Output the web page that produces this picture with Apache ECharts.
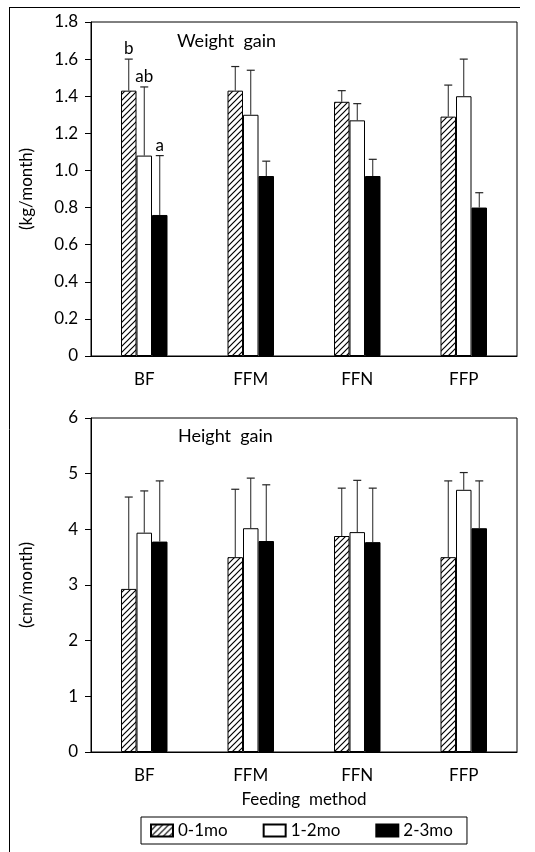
<!DOCTYPE html>
<html>
<head>
<meta charset="utf-8">
<script src="https://cdn.jsdelivr.net/npm/echarts@6/dist/echarts.min.js"></script>
<style>
  html, body { margin: 0; padding: 0; background: #fff; }
  #chart { width: 535px; height: 852px; }
</style>
</head>
<body>
<div id="chart"></div>
<script>
// feeding methods
var methods = ['BF', 'FFM', 'FFN', 'FFP'];
var periods = ['0-1mo', '1-2mo', '2-3mo'];

// weight gain (kg/month): mean and SD
var weight01 = [1.43, 1.43, 1.37, 1.29];
var weight12 = [1.08, 1.30, 1.27, 1.40];
var weight23 = [0.76, 0.97, 0.97, 0.80];
var weightSd01 = [0.17, 0.13, 0.06, 0.17];
var weightSd12 = [0.37, 0.24, 0.09, 0.20];
var weightSd23 = [0.32, 0.08, 0.09, 0.08];
var weightLetters = ['b', 'ab', 'a']; // BF group only

// height gain (cm/month): mean and SD
var height01 = [2.93, 3.50, 3.88, 3.50];
var height12 = [3.94, 4.02, 3.95, 4.71];
var height23 = [3.78, 3.79, 3.77, 4.02];
var heightSd01 = [1.65, 1.22, 0.86, 1.37];
var heightSd12 = [0.75, 0.90, 0.93, 0.31];
var heightSd23 = [1.09, 1.01, 0.97, 0.85];

var BAR_W = 15.5;
var FONT = 'Lato';
var FS = 17;

// hatch pattern ////
function makeHatch() {
	var c = document.createElement('canvas');
	c.width = 6; c.height = 6;
	var ctx = c.getContext('2d');
	ctx.fillStyle = '#fff';
	ctx.fillRect(0, 0, 6, 6);
	ctx.strokeStyle = '#000';
	ctx.lineWidth = 1.2;
	ctx.beginPath();
	ctx.moveTo(0, 6); ctx.lineTo(6, 0);
	ctx.moveTo(-1, 1); ctx.lineTo(1, -1);
	ctx.moveTo(5, 7); ctx.lineTo(7, 5);
	ctx.stroke();
	return c;
}
var hatch = { image: makeHatch(), repeat: 'repeat' };
var fills = [hatch, '#fff', '#000'];

function errData(sds, means) {
	var out = [];
	for (var k = 0; k < 3; k++) {
		for (var i = 0; i < methods.length; i++) {
			out.push([i, means[k][i], sds[k][i], k]);
		}
	}
	return out;
}

function errRender(letters) {
	return function(params, api) {
		var cat = api.value(0), mean = api.value(1), sd = api.value(2), k = api.value(3);
		var base = api.coord([cat, mean]);
		var top = api.coord([cat, mean + sd]);
		var x = base[0] + (k - 1) * BAR_W;
		var kids = [
			{ type: 'line', shape: { x1: x, y1: base[1], x2: x, y2: top[1] }, style: { stroke: '#222', lineWidth: 1 } },
			{ type: 'line', shape: { x1: x - 4, y1: top[1], x2: x + 4, y2: top[1] }, style: { stroke: '#222', lineWidth: 1.2 } }
		];
		if (letters && cat === 0) {
			kids.push({
				type: 'text',
				style: { text: letters[k], x: x, y: top[1] - 2, align: 'center', verticalAlign: 'bottom', fontFamily: FONT, fontSize: FS, fill: '#000' }
			});
		}
		return { type: 'group', children: kids };
	};
}

function barSeries(idx, data, k) {
	return {
		name: periods[k],
		type: 'bar',
		xAxisIndex: idx, yAxisIndex: idx,
		data: data,
		barWidth: BAR_W,
		barGap: '0%',
		itemStyle: { color: fills[k], borderColor: '#000', borderWidth: 1 },
		z: 2
	};
}

var chart = echarts.init(document.getElementById('chart'));

var axisLine = { lineStyle: { color: '#000', width: 1 } };
var labelStyle = { color: '#000', fontFamily: FONT, fontSize: FS };

var option = {
	animation: false,
	backgroundColor: '#fff',
	textStyle: { fontFamily: FONT },
	grid: [
		{ left: 91, right: 18, top: 22, height: 334, show: true, borderColor: '#000', borderWidth: 1 },
		{ left: 91, right: 18, top: 418, height: 334, show: true, borderColor: '#000', borderWidth: 1 }
	],
	legend: {
		data: periods,
		icon: 'rect',
		left: 141, top: 817,
		padding: [5, 14, 5, 9],
		itemGap: 35,
		itemWidth: 22, itemHeight: 12,
		borderColor: '#000', borderWidth: 1,
		textStyle: { color: '#000', fontFamily: FONT, fontSize: FS }
	},
	xAxis: [
		{
			type: 'category', gridIndex: 0, data: methods,
			axisLine: axisLine,
			axisTick: { length: 6, lineStyle: { color: '#000' } },
			axisLabel: { color: '#000', fontFamily: FONT, fontSize: FS, margin: 15 }
		},
		{
			type: 'category', gridIndex: 1, data: methods,
			name: 'Feeding  method', nameLocation: 'middle', nameGap: 39,
			nameTextStyle: labelStyle,
			axisLine: axisLine,
			axisTick: { length: 6, lineStyle: { color: '#000' } },
			axisLabel: { color: '#000', fontFamily: FONT, fontSize: FS, margin: 15 }
		}
	],
	yAxis: [
		{
			type: 'value', gridIndex: 0, min: 0, max: 1.8, interval: 0.2,
			name: '(kg/month)', nameLocation: 'middle', nameGap: 56, nameTextStyle: labelStyle,
			axisLine: { show: true, lineStyle: { color: '#000' } },
			axisTick: { show: true, length: 6, lineStyle: { color: '#000' } },
			axisLabel: {
				color: '#000', fontFamily: FONT, fontSize: FS, margin: 13,
				formatter: function(v) { return v === 0 ? '0' : v.toFixed(1); }
			},
			splitLine: { show: false }
		},
		{
			type: 'value', gridIndex: 1, min: 0, max: 6, interval: 1,
			name: '(cm/month)', nameLocation: 'middle', nameGap: 56, nameTextStyle: labelStyle,
			axisLine: { show: true, lineStyle: { color: '#000' } },
			axisTick: { show: true, length: 6, lineStyle: { color: '#000' } },
			axisLabel: { color: '#000', fontFamily: FONT, fontSize: FS, margin: 13 },
			splitLine: { show: false }
		}
	],
	graphic: [
		// outer figure frame
		{ type: 'line', shape: { x1: 9.5, y1: 7, x2: 9.5, y2: 852 }, style: { stroke: '#000', lineWidth: 1 } },
		{ type: 'line', shape: { x1: 9.5, y1: 7.5, x2: 520, y2: 7.5 }, style: { stroke: '#000', lineWidth: 1 } },
		{ type: 'text', left: 177, top: 32, style: { text: 'Weight  gain', fontFamily: FONT, fontSize: 18, fill: '#000' } },
		{ type: 'text', left: 178, top: 427, style: { text: 'Height  gain', fontFamily: FONT, fontSize: 18, fill: '#000' } }
	],
	series: [
		barSeries(0, weight01, 0),
		barSeries(0, weight12, 1),
		barSeries(0, weight23, 2),
		{
			type: 'custom', xAxisIndex: 0, yAxisIndex: 0, z: 3,
			renderItem: errRender(weightLetters),
			data: errData([weightSd01, weightSd12, weightSd23], [weight01, weight12, weight23])
		},
		barSeries(1, height01, 0),
		barSeries(1, height12, 1),
		barSeries(1, height23, 2),
		{
			type: 'custom', xAxisIndex: 1, yAxisIndex: 1, z: 3,
			renderItem: errRender(null),
			data: errData([heightSd01, heightSd12, heightSd23], [height01, height12, height23])
		}
	]
};

chart.setOption(option);
</script>
</body>
</html>
